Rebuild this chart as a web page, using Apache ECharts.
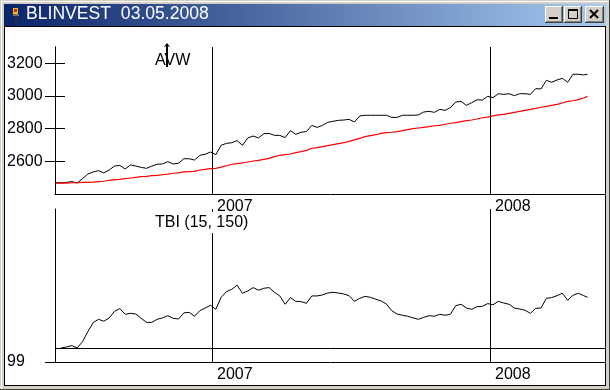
<!DOCTYPE html>
<html><head><meta charset="utf-8">
<style>html,body{margin:0;padding:0;background:#fff}#c{width:610px;height:390px}</style>
<script src="https://cdn.jsdelivr.net/npm/echarts@6/dist/echarts.min.js"></script>
</head><body><div id="c"></div>
<script>
const windowTitle = 'BLINVEST  03.05.2008';
const priceTicks = [2600, 2800, 3000, 3200];
const indicatorTicks = [99];
const yearTicks = ['2007-01-01', '2008-01-01'];
const indicatorName = 'TBI (15, 150)';
const markerName = 'AVW';
const firstWeek = '2006-06-10';
const lastPointDate = '2008-05-08';

const priceValues = [2469,2469,2471,2476,2467,2494,2522,2535,2543,2529,2547,2571,2575,2553,2578,2571,2563,2557,2571,2582,2584,2598,2584,2588,2616,2616,2608,2637,2643,2657,2641,2698,2710,2714,2727,2698,2743,2755,2743,2769,2771,2759,2759,2745,2788,2765,2778,
2782,2820,2808,2820,2839,2845,2851,2853,2857,2841,2878,2882,2882,2882,2882,2882,2869,2869,2882,2882,2882,2884,2902,2906,2900,2918,2912,2929,2963,2967,2943,2959,2977,2975,2998,2990,3014,3010,3014,3002,3014,3014,3010,3045,3043,3096,3084,3098,3108,3084,3133,3133,3129,3133];

const averageValues = [2467,2467,2467,2469,2469,2471,2471,2473,2476,2478,2484,2488,2490,2494,2498,2502,2506,2508,2512,2514,2518,2522,2527,2529,2535,2537,2539,2547,2551,2555,2557,2565,2573,2582,2586,2590,2596,2602,2606,2612,2618,2629,2637,2641,2645,2653,2659,
2667,2680,2684,2690,2696,2702,2708,2714,2722,2731,2741,2751,2757,2763,2771,2776,2778,2782,2788,2794,2800,2804,2808,2812,2818,2820,2827,2833,2837,2843,2849,2853,2859,2867,2871,2878,2884,2888,2894,2900,2906,2912,2918,2924,2931,2937,2943,2949,2957,2967,2971,2978,2988,2998];

const indicatorValues = [null,100.01,100.08,100.18,100.01,100.46,101.18,101.83,102.07,101.93,102.17,102.64,102.84,102.43,102.50,102.45,102.14,101.85,101.85,102.07,102.17,102.33,102.14,102.09,102.53,102.57,102.29,102.69,102.88,103.08,102.79,103.65,104.06,104.23,104.52,103.94,104.11,104.35,104.16,104.30,104.35,104.01,103.75,103.15,103.63,103.36,103.34,
103.22,103.75,103.75,103.82,103.96,104.01,103.96,103.89,103.77,103.36,103.58,103.72,103.65,103.51,103.39,103.17,102.69,102.45,102.36,102.29,102.17,102.07,102.21,102.33,102.29,102.43,102.36,102.43,103.05,103.15,102.88,102.79,102.98,103.00,103.20,103.12,103.36,103.24,103.15,102.88,102.81,102.72,102.50,102.86,102.88,103.58,103.63,103.77,103.94,103.44,103.80,103.94,103.77,103.65];

const DAY = 86400000;
const ms = s => Date.parse(s + 'T00:00:00Z');
const dates = priceValues.map((_, i) => i === priceValues.length - 1 ? ms(lastPointDate) : ms(firstWeek) + i * 7 * DAY);
const pair = arr => arr.map((v, i) => [dates[i], v]);
const yearMs = yearTicks.map(ms);

const L = 55, R = 606, Y0 = 212, Y1 = 490;
const pxPerMs = (Y1 - Y0) / (yearMs[1] - yearMs[0]);
const xMin = yearMs[0] - (Y0 - L) / pxPerMs;
const xMax = yearMs[0] + (R - Y0) / pxPerMs;

const FONT = '"Liberation Sans", Arial, sans-serif';
const axisStyle = { lineStyle: { color: '#000', width: 1 } };
const xAxisFor = gridIndex => ({
  type: 'value', gridIndex, min: xMin, max: xMax,
  splitLine: { show: false }, axisPointer: { show: false },
  axisLine: { show: true, onZero: false, ...axisStyle },
  axisTick: { show: false },
  axisLabel: {
    show: true, customValues: yearMs, color: '#000', fontFamily: FONT, fontSize: 16,
    align: 'left', verticalAlign: 'middle', margin: 13, padding: [0, 0, 0, 5], hideOverlap: false,
    formatter: v => String(new Date(v).getUTCFullYear())
  }
});
const yAxisFor = (gridIndex, min, max, ticks, inside) => ({
  type: 'value', gridIndex, min, max, position: 'left', scale: true,
  splitLine: { show: false },
  axisLine: { show: true, onZero: false, ...axisStyle },
  axisTick: { show: true, customValues: ticks, inside, length: 10, ...axisStyle },
  axisLabel: inside ? { show: false } : {
    show: true, customValues: ticks, color: '#000', fontFamily: FONT, fontSize: 16,
    align: 'left', margin: 48, hideOverlap: false, formatter: v => String(v)
  }
});
const yearLines = yearMs.map(x => ({ xAxis: x }));
const lineMark = data => ({ silent: true, symbol: 'none', label: { show: false }, animation: false,
  lineStyle: { color: '#000', width: 1, type: 'solid' }, emphasis: { disabled: true }, data });
const lineSeries = (name, arr, xi, color, width, extra) => ({
  name, type: 'line', xAxisIndex: xi, yAxisIndex: xi * 2, data: pair(arr), showSymbol: false, symbol: 'none',
  connectNulls: false, lineStyle: { color, width }, itemStyle: { color }, silent: true, ...extra
});

const GRAY = '#d4d0c8';
const rect = (x, y, w, h, fill, z = 50) => ({ type: 'rect', silent: true, z, shape: { x, y, width: w, height: h }, style: { fill } });
const button = (x, w) => [
  rect(x, 6, w, 17, '#404040'), rect(x, 6, w - 1, 16, '#fff'), rect(x + 1, 7, w - 2, 15, '#808080'), rect(x + 1, 7, w - 3, 14, GRAY)
];
const chrome = [
  rect(0, 0, 610, 4, GRAY), rect(0, 386, 610, 4, GRAY), rect(0, 0, 4, 390, GRAY), rect(606, 0, 4, 390, GRAY),
  rect(0, 389, 610, 1, '#404040'), rect(609, 0, 1, 390, '#404040'), rect(1, 1, 1, 388, '#fff'), rect(1, 1, 608, 1, '#fff'),
  { type: 'rect', silent: true, z: 50, shape: { x: 4, y: 4, width: 602, height: 22 },
    style: { fill: new echarts.graphic.LinearGradient(0, 0, 1, 0, [{ offset: 0, color: '#0a246a' }, { offset: 1, color: '#a6caf0' }]) } },
  rect(4, 26, 602, 1, '#000'), rect(4, 26, 1, 360, '#000'), rect(605, 26, 1, 360, '#000'), rect(4, 385, 602, 1, '#000'),
  { type: 'text', silent: true, z: 51, x: 26, y: 5, style: { text: windowTitle, fill: '#fff', font: '17.6px ' + FONT, textVerticalAlign: 'top' } },
  rect(13, 8, 5, 6, '#e8c020', 51), rect(14, 9, 3, 3, '#e02020', 52), rect(15, 14, 2, 8, '#303030', 51), rect(13, 14, 6, 2, '#707070', 51),
  ...button(545, 18), ...button(564, 18), ...button(585, 19),
  rect(549, 17, 9, 2, '#000', 53),
  { type: 'rect', silent: true, z: 53, shape: { x: 568.5, y: 9.5, width: 9, height: 9 }, style: { fill: 'none', stroke: '#000', lineWidth: 1 } },
  rect(568, 9, 10, 2, '#000', 54),
  { type: 'line', silent: true, z: 53, shape: { x1: 590, y1: 10, x2: 598, y2: 18 }, style: { stroke: '#000', lineWidth: 2 } },
  { type: 'line', silent: true, z: 53, shape: { x1: 598, y1: 10, x2: 590, y2: 18 }, style: { stroke: '#000', lineWidth: 2 } },
  { type: 'text', silent: true, z: 20, x: 155, y: 53, style: { text: markerName, fill: '#000', font: '16px ' + FONT, textVerticalAlign: 'top' } },
  { type: 'line', silent: true, z: 21, shape: { x1: 167, y1: 44, x2: 167, y2: 67 }, style: { stroke: '#000', lineWidth: 2 } },
  { type: 'polyline', silent: true, z: 21, shape: { points: [[164.5, 47], [167, 43.5], [169.5, 47]] }, style: { stroke: '#000', lineWidth: 1, fill: 'none' } },
  { type: 'rect', silent: true, z: 20, shape: { x: 155, y: 212, width: 93, height: 21 }, style: { fill: '#fff' } },
  { type: 'text', silent: true, z: 21, x: 155, y: 215, style: { text: indicatorName, fill: '#000', font: '16px ' + FONT, textVerticalAlign: 'top' } }
];

const chart = echarts.init(document.getElementById('c'), null, { renderer: 'canvas' });
chart.setOption({
  animation: false,
  backgroundColor: '#fff',
  tooltip: { show: false },
  grid: [
    { left: L, top: 47, width: R - L, height: 147, containLabel: false },
    { left: L, top: 209, width: R - L, height: 153, containLabel: false }
  ],
  xAxis: [xAxisFor(0), xAxisFor(1)],
  yAxis: [
    yAxisFor(0, 2400, 3300, priceTicks, false),
    yAxisFor(0, 2400, 3300, priceTicks, true),
    yAxisFor(1, 99, 110, indicatorTicks, false)
  ],
  series: [
    lineSeries('Price', priceValues, 0, '#000', 1, { markLine: lineMark(yearLines) }),
    lineSeries('Average', averageValues, 0, '#f00', 1.2, { z: 3 }),
    {
      ...lineSeries('TBI', indicatorValues, 1, '#000', 1, {
        markLine: lineMark([...yearLines, { yAxis: 100 }])
      }),
      yAxisIndex: 2
    }
  ],
  graphic: chrome
});
</script></body></html>
